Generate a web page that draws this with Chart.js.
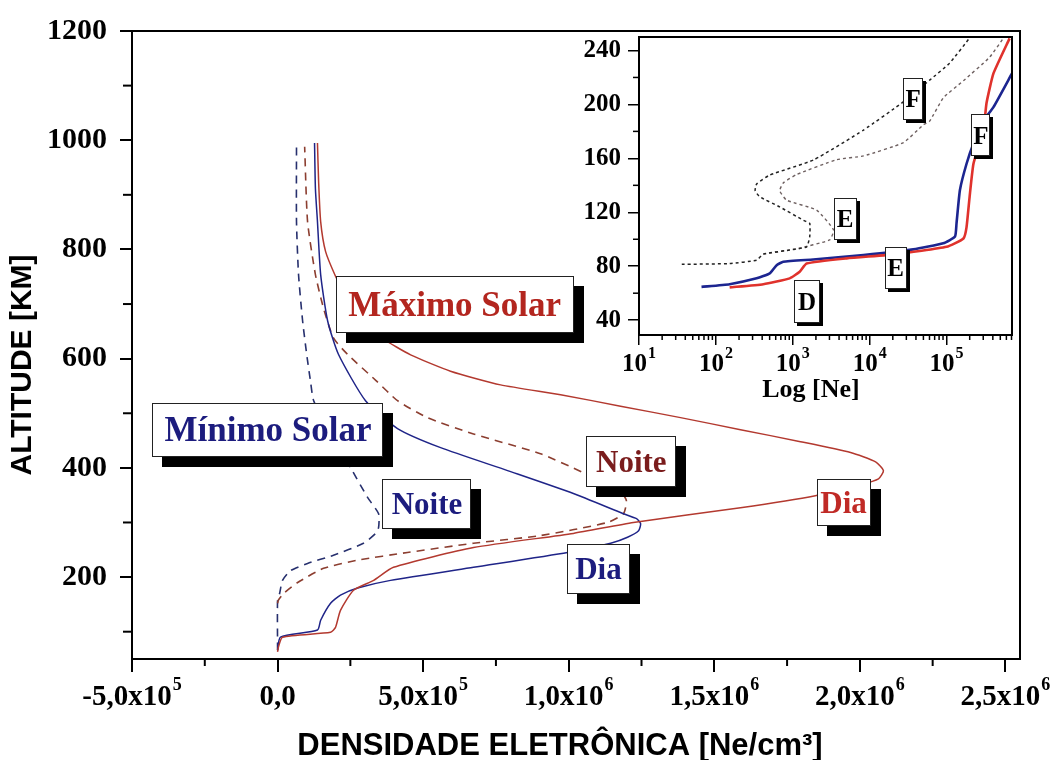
<!DOCTYPE html>
<html lang="pt">
<head>
<meta charset="utf-8">
<title>Densidade eletrônica x altitude</title>
<script src="https://cdn.jsdelivr.net/npm/chart.js@4.4.1/dist/chart.umd.min.js"></script>
<style>
  html, body { margin: 0; padding: 0; background: #fff; }
  #wrap { position: relative; width: 1056px; height: 760px; }
  #main { position: absolute; left: 0; top: 0; }
  #inset { position: absolute; left: 560px; top: 10px; }
</style>
</head>
<body>
<div id="wrap">
  <canvas id="main" width="1056" height="760"></canvas>
  <canvas id="inset" width="470" height="400"></canvas>
</div>
<script>
  // Main panel: altitude [km] vs electron density [Ne/cm3]
  const maxDiaNe = [0, 3e3, 17e3, 182e3, 199e3, 216e3, 261e3, 330e3, 398e3, 673e3, 1.016e6, 1.222e6, 1.59e6, 1.847e6, 2.002e6, 2.064e6, 2.081e6, 2.054e6, 1.968e6, 1.796e6, 1.59e6, 1.384e6, 1.178e6, 972e3, 766e3, 594e3, 457e3, 364e3, 285e3, 234e3, 199e3, 165e3, 148e3, 141e3, 137e3];
  const maxDiaAlt = [63, 72, 90, 99, 108, 139, 176, 194, 218, 254, 280, 300, 327, 349, 369, 380, 395, 411, 428, 448, 470, 492, 513, 534, 552, 577, 607, 636, 672, 714, 751, 796, 851, 924, 995];

  const minDiaNe = [0, 10e3, 137e3, 148e3, 182e3, 216e3, 275e3, 388e3, 673e3, 996e3, 1.144e6, 1.202e6, 1.24e6, 1.247e6, 1.233e6, 1.188e6, 1.016e6, 790e3, 560e3, 412e3, 302e3, 209e3, 172e3, 148e3, 137e3, 130e3, 127e3];
  const minDiaAlt = [66, 90, 103, 121, 152, 167, 180, 194, 218, 245, 262, 273, 285, 298, 307, 316, 353, 395, 437, 472, 523, 608, 669, 754, 851, 911, 995];

  const maxNoiteNe = [0, 3e3, 21e3, 69e3, 158e3, 275e3, 446e3, 673e3, 903e3, 1.133e6, 1.188e6, 1.198e6, 1.178e6, 1.126e6, 1.051e6, 903e3, 673e3, 515e3, 412e3, 340e3, 240e3, 192e3, 158e3, 130e3, 103e3, 93e3];
  const maxNoiteAlt = [152, 158, 170, 190, 216, 231, 245, 262, 276, 300, 316, 340, 357, 371, 391, 426, 462, 492, 523, 559, 608, 638, 692, 754, 851, 988];

  const minNoiteNe = [0, 0, 7e3, 17e3, 45e3, 103e3, 192e3, 295e3, 337e3, 347e3, 347e3, 309e3, 251e3, 182e3, 124e3, 113e3, 100e3, 86e3, 72e3, 65e3, 65e3];
  const minNoiteAlt = [66, 158, 170, 194, 212, 225, 240, 262, 280, 291, 316, 346, 400, 462, 523, 559, 608, 669, 754, 851, 988];

  const xTicks = [-5e5, 0, 5e5, 1e6, 1.5e6, 2e6, 2.5e6];
  const xTickLabels = ['-5,0x10^5', '0,0', '5,0x10^5', '1,0x10^6', '1,5x10^6', '2,0x10^6', '2,5x10^6'];
  const yTicks = [200, 400, 600, 800, 1000, 1200];

  // Inset: log scale, 30-250 km
  const inBlueNe = [65, 151, 339, 501, 617, 752, 1845, 8318, 36900, 90570, 128800, 134900, 149300, 182000, 223900, 302000, 407400, 710000];
  const inBlueAlt = [64.7, 66.7, 71, 74.7, 80.8, 83.3, 85, 88.3, 92.5, 97, 102, 112, 136.5, 156, 171, 188, 198, 223];

  const inRedNe = [151, 414, 912, 1230, 1514, 5012, 22390, 100000, 166000, 182000, 199500, 223900, 302000, 331100, 407400, 660700];
  const inRedAlt = [64.3, 66.7, 71, 75.9, 82, 85.8, 89, 94.4, 100.6, 109, 131.5, 156, 181, 201, 223, 249];

  const inDarkNe = [36, 151, 339, 414, 912, 1514, 1660, 1660, 1380, 676, 372, 324, 339, 501, 1862, 8318, 27540, 60260, 109600, 204200];
  const inDarkAlt = [81.4, 82, 84.5, 89, 92, 94.4, 101.8, 111.8, 114, 124, 131.5, 136, 141, 147.6, 158.8, 181, 202, 218, 230.6, 250];

  const inGreyNe = [414, 1122, 3020, 3388, 2042, 832, 676, 759, 1122, 3715, 8318, 27540, 50120, 60260, 91200, 166000, 363100, 562300];
  const inGreyAlt = [89, 93, 99.5, 107, 121.6, 129, 136, 142, 148, 159, 161.8, 171.7, 185, 187.6, 205, 217.6, 235, 250];

  const inXTicks = [10, 100, 1000, 1e4, 1e5];
  const inXTickLabels = ['10^1', '10^2', '10^3', '10^4', '10^5'];
  const inYTicks = [40, 80, 120, 160, 200, 240];

  const SERIF = '"Liberation Serif", "Times New Roman", serif';
  const SANS = '"Liberation Sans", Arial, sans-serif';

  // Label boxes, anchored in data units
  const mainBoxes = [
    { text: 'Máximo Solar', color: '#b3261f', ne: 608e3, alt: 699, w: 238, h: 57, size: 35 },
    { text: 'Mínimo Solar', color: '#1c1c7e', ne: -33e3, alt: 470, w: 231, h: 54, size: 35 },
    { text: 'Noite', color: '#1c1c7e', ne: 513e3, alt: 334, w: 89, h: 50, size: 31 },
    { text: 'Dia', color: '#1c1c7e', ne: 1.102e6, alt: 215.5, w: 63, h: 50, size: 31 },
    { text: 'Noite', color: '#7a1c1c', ne: 1.215e6, alt: 412, w: 90, h: 51, size: 31 },
    { text: 'Dia', color: '#c02a26', ne: 1.944e6, alt: 337, w: 54, h: 47, size: 31 }
  ];
  const insetBoxes = [
    { text: 'F', color: '#000', ne: 36.9e3, alt: 204, w: 20, h: 42, size: 25 },
    { text: 'F', color: '#000', ne: 2.79e5, alt: 177, w: 19, h: 42, size: 25 },
    { text: 'E', color: '#000', ne: 4.78e3, alt: 115, w: 23, h: 42, size: 25 },
    { text: 'E', color: '#000', ne: 2.18e4, alt: 79, w: 22, h: 42, size: 25 },
    { text: 'D', color: '#000', ne: 1.53e3, alt: 53.5, w: 26, h: 43, size: 25 }
  ];

  function toPoints(xs, ys) {
    return xs.map((v, i) => ({ x: v, y: ys[i] }));
  }

  function lineSet(xs, ys, color, width, dash, tension) {
    return {
      data: toPoints(xs, ys),
      showLine: true,
      borderColor: color,
      borderWidth: width,
      borderDash: dash,
      pointRadius: 0,
      tension: tension,
      fill: false
    };
  }

  // Draw a boxed label with a black drop shadow
  function drawBox(ctx, cx, cy, b, shadow) {
    const l = Math.round(cx - b.w / 2), t = Math.round(cy - b.h / 2);
    ctx.fillStyle = '#000';
    ctx.fillRect(l + shadow, t + shadow, b.w, b.h);
    ctx.fillStyle = '#fff';
    ctx.fillRect(l, t, b.w, b.h);
    ctx.strokeStyle = '#222';
    ctx.lineWidth = 1;
    ctx.strokeRect(l + 0.5, t + 0.5, b.w - 1, b.h - 1);
    ctx.font = 'bold ' + b.size + 'px ' + SERIF;
    ctx.fillStyle = b.color;
    ctx.textAlign = 'center';
    ctx.textBaseline = 'alphabetic';
    ctx.fillText(b.text, cx, cy + b.size * 0.33);
  }

  // Tick label with a raised exponent, e.g. "5,0x10^5"
  function drawSup(ctx, label, cx, baseY, baseFont, supFont, raise) {
    const parts = label.split('^');
    const base = parts[0], sup = parts[1] || '';
    ctx.font = baseFont;
    const wb = ctx.measureText(base).width;
    ctx.font = supFont;
    const ws = sup ? ctx.measureText(sup).width + 1 : 0;
    const left = cx - (wb + ws) / 2;
    ctx.textAlign = 'left';
    ctx.textBaseline = 'alphabetic';
    ctx.fillStyle = '#000';
    ctx.font = baseFont;
    ctx.fillText(base, left, baseY);
    if (sup) {
      ctx.font = supFont;
      ctx.fillText(sup, left + wb + 1, baseY - raise);
    }
  }

  function tickMark(ctx, x1, y1, x2, y2) {
    ctx.beginPath();
    ctx.moveTo(x1, y1);
    ctx.lineTo(x2, y2);
    ctx.stroke();
  }

  const mainDecor = {
    id: 'mainDecor',
    afterDatasetsDraw(chart) {
      const { ctx, scales: { x, y } } = chart;
      ctx.save();
      mainBoxes.forEach(b => drawBox(ctx, x.getPixelForValue(b.ne), y.getPixelForValue(b.alt), b, 10));
      ctx.restore();
    },
    afterDraw(chart) {
      const { ctx, chartArea: a, scales: { x, y } } = chart;
      ctx.save();
      ctx.strokeStyle = '#000';
      ctx.lineWidth = 2;
      ctx.strokeRect(a.left, a.top, a.right - a.left, a.bottom - a.top);

      // minor ticks halfway between the labelled ones
      for (let i = 0; i < xTicks.length - 1; i++) {
        const px = x.getPixelForValue((xTicks[i] + xTicks[i + 1]) / 2);
        tickMark(ctx, px, a.bottom, px, a.bottom + 7);
      }
      for (let v = 100; v < 1200; v += 200) {
        const py = y.getPixelForValue(v);
        tickMark(ctx, a.left - 9, py, a.left, py);
      }

      xTickLabels.forEach((lab, i) => {
        drawSup(ctx, lab, x.getPixelForValue(xTicks[i]), 705,
          'bold 29px ' + SERIF, 'bold 18px ' + SERIF, 15);
      });

      // axis titles
      ctx.fillStyle = '#000';
      ctx.font = 'bold 31px ' + SANS;
      ctx.textAlign = 'center';
      ctx.textBaseline = 'alphabetic';
      ctx.fillText('DENSIDADE ELETRÔNICA [Ne/cm³]', 560, 755);

      ctx.translate(23, 365);
      ctx.rotate(-Math.PI / 2);
      ctx.font = 'bold 30px ' + SANS;
      ctx.textBaseline = 'middle';
      ctx.fillText('ALTITUDE [KM]', 0, 0);
      ctx.restore();
    }
  };

  const insetDecor = {
    id: 'insetDecor',
    afterDatasetsDraw(chart) {
      const { ctx, scales: { x, y } } = chart;
      ctx.save();
      insetBoxes.forEach(b => drawBox(ctx, x.getPixelForValue(b.ne), y.getPixelForValue(b.alt), b, 3));
      ctx.restore();
    },
    afterDraw(chart) {
      const { ctx, chartArea: a, scales: { x, y } } = chart;
      ctx.save();
      ctx.strokeStyle = '#000';
      ctx.lineWidth = 2;
      ctx.strokeRect(a.left, a.top, a.right - a.left, a.bottom - a.top);

      // log minor ticks 2..9 per decade
      ctx.lineWidth = 1.5;
      for (let d = 10; d <= 1e5; d *= 10) {
        for (let k = 2; k <= 9; k++) {
          const v = k * d;
          if (v > x.max) break;
          const px = x.getPixelForValue(v);
          tickMark(ctx, px, a.bottom, px, a.bottom + 5);
        }
      }
      for (let v = 60; v < 250; v += 40) {
        const py = y.getPixelForValue(v);
        tickMark(ctx, a.left - 6, py, a.left, py);
      }

      inXTickLabels.forEach((lab, i) => {
        drawSup(ctx, lab, x.getPixelForValue(inXTicks[i]), 361,
          'bold 25px ' + SERIF, 'bold 16px ' + SERIF, 13);
      });

      ctx.fillStyle = '#000';
      ctx.font = 'bold 26px ' + SERIF;
      ctx.textAlign = 'center';
      ctx.textBaseline = 'alphabetic';
      ctx.fillText('Log [Ne]', 251, 387);
      ctx.restore();
    }
  };

  // Main chart
  new Chart(document.getElementById('main').getContext('2d'), {
    type: 'scatter',
    data: {
      datasets: [
        lineSet(maxDiaNe, maxDiaAlt, '#b3392f', 1.5, [], 0.2),
        lineSet(minDiaNe, minDiaAlt, '#1f2488', 1.5, [], 0.2),
        lineSet(maxNoiteNe, maxNoiteAlt, '#8c3e30', 1.6, [8, 6], 0.2),
        lineSet(minNoiteNe, minNoiteAlt, '#27306e', 1.6, [8, 6], 0.2)
      ]
    },
    options: {
      responsive: false,
      animation: false,
      layout: { padding: { top: 29, right: 36, left: 0, bottom: 0 } },
      plugins: { legend: { display: false }, tooltip: { enabled: false } },
      scales: {
        x: {
          type: 'linear',
          min: -5e5,
          max: 2.55e6,
          afterBuildTicks: s => { s.ticks = xTicks.map(v => ({ value: v })); },
          afterFit: s => { s.height = 101; },
          ticks: { display: false },
          grid: { drawOnChartArea: false, drawTicks: true, tickLength: 13, color: '#000', lineWidth: 2 },
          border: { display: false }
        },
        y: {
          type: 'linear',
          min: 50,
          max: 1200,
          afterBuildTicks: s => { s.ticks = yTicks.map(v => ({ value: v })); },
          afterFit: s => { s.width = 132; },
          ticks: {
            color: '#000',
            padding: 13,
            font: { family: SERIF, size: 30, weight: 'bold' },
            callback: v => String(v)
          },
          grid: { drawOnChartArea: false, drawTicks: true, tickLength: 12, color: '#000', lineWidth: 2 },
          border: { display: false }
        }
      }
    },
    plugins: [mainDecor]
  });

  // Inset chart
  new Chart(document.getElementById('inset').getContext('2d'), {
    type: 'scatter',
    data: {
      datasets: [
        lineSet(inDarkNe, inDarkAlt, '#222222', 1.5, [3, 3], 0.15),
        lineSet(inGreyNe, inGreyAlt, '#6e6060', 1.4, [3, 3], 0.15),
        lineSet(inRedNe, inRedAlt, '#e0322c', 2.6, [], 0.15),
        lineSet(inBlueNe, inBlueAlt, '#1c2590', 2.6, [], 0.15)
      ]
    },
    options: {
      responsive: false,
      animation: false,
      layout: { padding: { top: 27, right: 18, left: 0, bottom: 0 } },
      plugins: { legend: { display: false }, tooltip: { enabled: false } },
      scales: {
        x: {
          type: 'logarithmic',
          min: 10,
          max: 7.1e5,
          afterBuildTicks: s => { s.ticks = inXTicks.map(v => ({ value: v })); },
          afterFit: s => { s.height = 75; },
          ticks: { display: false },
          grid: { drawOnChartArea: false, drawTicks: true, tickLength: 10, color: '#000', lineWidth: 1.5 },
          border: { display: false }
        },
        y: {
          type: 'linear',
          min: 29,
          max: 250,
          afterBuildTicks: s => { s.ticks = inYTicks.map(v => ({ value: v })); },
          afterFit: s => { s.width = 79; },
          ticks: {
            color: '#000',
            padding: 7,
            font: { family: SERIF, size: 25, weight: 'bold' },
            callback: v => String(v)
          },
          grid: { drawOnChartArea: false, drawTicks: true, tickLength: 11, color: '#000', lineWidth: 1.5 },
          border: { display: false }
        }
      }
    },
    plugins: [insetDecor]
  });
</script>
</body>
</html>
